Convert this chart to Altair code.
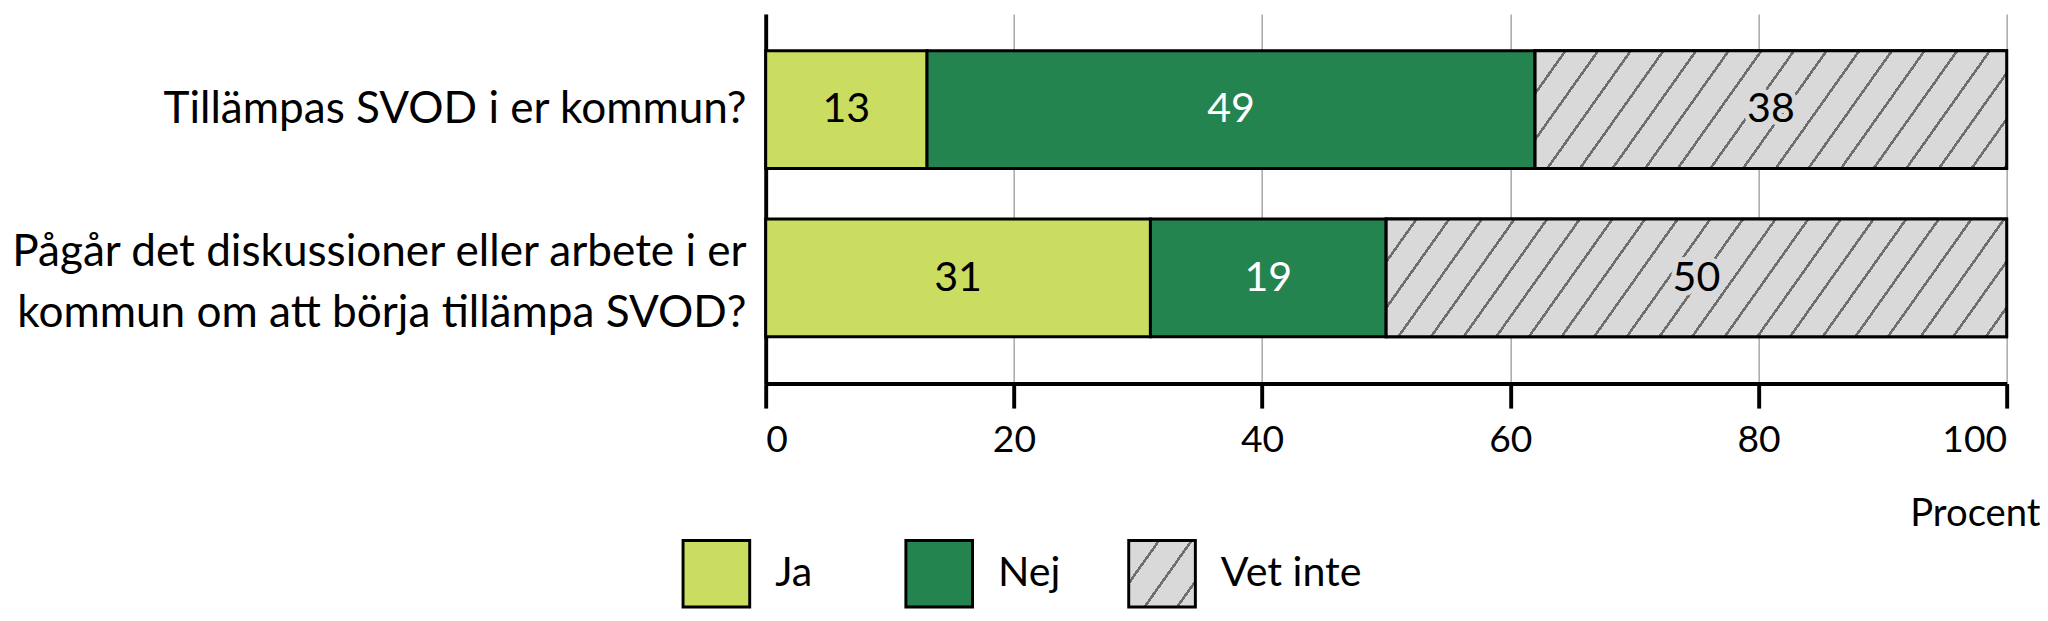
import math
import altair as alt
import pandas as pd

# ---- data ----
fragor = ["Tillämpas SVOD i er kommun?",
          "Pågår det diskussioner eller arbete i er|kommun om att börja tillämpa SVOD?"]
svar = ["Ja", "Nej", "Vet inte"]
ja = [13, 31]
nej = [49, 19]
vet_inte = [38, 50]
x_ticks = [0, 20, 40, 60, 80, 100]
x_title = "Procent"

# ---- styles ----
FONT = "Lato"
FS = 42
FS_Y = 45
FS_TICK = 38
C_JA = "#cbdd60"
C_NEJ = "#23844f"
C_VET = "#d9d9d9"
C_HATCH = "#6e6e6e"
PLOT_W = 1266
PLOT_H = 377
EXTENT = 735
P_IN, P_OUT, ALIGN = 0.30, 0.248, 0.44

rows = []
for i, f in enumerate(fragor):
    start = 0
    for s, v in zip(svar, [ja[i], nej[i], vet_inte[i]]):
        rows.append({"fraga": f, "svar": s, "value": v, "start": start,
                     "end": start + v, "mid": start + v / 2})
        start += v
df = pd.DataFrame(rows)

step = PLOT_H / (2 - P_IN + 2 * P_OUT)
BAR_H = step * (1 - P_IN)


def hatch(W, H, k=0.71, period=33.3, lw=3.2, phase=31.0):
    tot = W + k * H
    g = tot / (W * W + k * k * H * H)
    stops = [{"offset": 0, "color": C_VET}]
    d = phase % period - period
    while d - lw / 2 < tot:
        a = max(0.0, (d - lw / 2) / tot)
        b = min(1.0, (d + lw / 2) / tot)
        if b > 0 and a < 1:
            stops += [{"offset": a, "color": C_VET}, {"offset": a, "color": C_HATCH},
                      {"offset": b, "color": C_HATCH}, {"offset": b, "color": C_VET}]
        d += period
    stops.append({"offset": 1, "color": C_VET})
    return {"gradient": "linear", "x1": 0, "y1": 0, "x2": W * g, "y2": k * H * g,
            "stops": stops}


yscale = alt.Scale(domain=fragor, paddingInner=P_IN, paddingOuter=P_OUT, align=ALIGN)
xscale = alt.Scale(domain=[0, 100], nice=False)

base = alt.Chart(df)

yenc = alt.Y("fraga:N", scale=yscale, sort=fragor, title=None,
             axis=alt.Axis(domain=True, domainColor="black", domainWidth=4, ticks=False,
                           labelFontSize=FS_Y, labelFont=FONT, labelColor="black",
                           labelPadding=20, labelLimit=900, labelLineHeight=62,
                           labelExpr="split(datum.label, '|')", grid=False,
                           labelOffset={"condition": {"test": "indexof(datum.value, '|') >= 0",
                                                      "value": -26}, "value": 0},
                           minExtent=EXTENT, maxExtent=EXTENT))

xenc = alt.X("start:Q", scale=xscale,
             axis=alt.Axis(values=x_ticks, tickSize=25, tickWidth=4, tickColor="black",
                           domainColor="black", domainWidth=4, labelFontSize=FS_TICK,
                           labelFont=FONT, labelColor="black", labelPadding=14,
                           grid=True, gridColor="#a6a6a6", gridWidth=1.5,
                           title=x_title, titleFont=FONT, titleFontSize=39,
                           titleFontWeight="normal", titleColor="black",
                           titleAlign="right", titleAnchor="end", titleBaseline="alphabetic",
                           titleX=1300, titleY=145))

bars = base.mark_bar(stroke="black", strokeWidth=3).encode(
    y=yenc, x=xenc, x2="end:Q",
    fill=alt.Fill("svar:N", scale=alt.Scale(domain=svar, range=[C_JA, C_NEJ, C_VET]),
                  legend=None),
)

layers = [bars]
for i, f in enumerate(fragor):
    W = vet_inte[i] * PLOT_W / 100
    layers.append(
        base.transform_filter((alt.datum.svar == "Vet inte") & (alt.datum.fraga == f))
        .mark_bar(stroke="black", strokeWidth=3, fill=hatch(W, BAR_H))
        .encode(y=alt.Y("fraga:N", scale=yscale, sort=fragor), x="start:Q", x2="end:Q")
    )

halo = base.transform_filter(alt.datum.svar == "Vet inte").mark_text(
    font=FONT, fontSize=FS, stroke=C_VET, strokeWidth=10, fill=C_VET, baseline="middle"
).encode(y=alt.Y("fraga:N", scale=yscale, sort=fragor), x="mid:Q", text="value:Q")

labels = base.mark_text(font=FONT, fontSize=FS, baseline="middle").encode(
    y=alt.Y("fraga:N", scale=yscale, sort=fragor), x="mid:Q", text="value:Q",
    fill=alt.condition(alt.datum.svar == "Nej", alt.value("white"), alt.value("black")),
)
layers += [halo, labels]

main = alt.layer(*layers).properties(width=PLOT_W, height=PLOT_H)

# ---- manual legend (origin is aligned with the plot origin; marks sit at band centres) ----
leg_df = pd.DataFrame({"svar": svar})
lx = alt.X("svar:N", scale=alt.Scale(domain=svar, range=[-198, 484], paddingInner=0,
                                      paddingOuter=0), axis=None)
SW = 68
leg_base = alt.Chart(leg_df)
sq_color = leg_base.transform_filter(alt.datum.svar != "Vet inte").mark_square(
    size=SW * SW, stroke="black", strokeWidth=3, opacity=1, xOffset=SW / 2
).encode(x=lx, fill=alt.Fill("svar:N", scale=alt.Scale(domain=svar, range=[C_JA, C_NEJ, C_VET]),
                              legend=None))
sq_hatch = leg_base.transform_filter(alt.datum.svar == "Vet inte").mark_square(
    size=SW * SW, stroke="black", strokeWidth=3, opacity=1, xOffset=SW / 2,
    fill=hatch(SW, SW)
).encode(x=lx)
leg_text = leg_base.mark_text(font=FONT, fontSize=FS, align="left", baseline="middle",
                              dx=SW + 26, color="black").encode(x=lx, text="svar:N")
legend = alt.layer(sq_color, sq_hatch, leg_text).properties(width=500, height=SW)

chart = alt.vconcat(main, legend, spacing=1).properties(
    padding={"left": 0, "top": 0, "right": 0, "bottom": 0}
).configure(font=FONT).configure_view(stroke=None)

chart.save("out.html", embed_options={"renderer": "svg", "actions": False})
